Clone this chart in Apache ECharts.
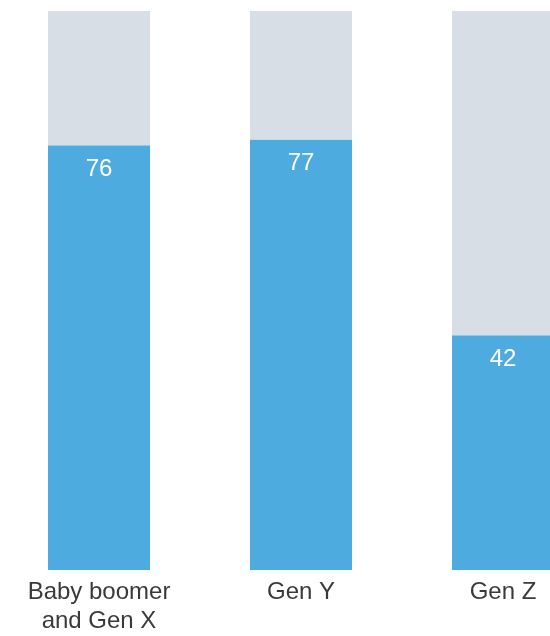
<!DOCTYPE html>
<html>
<head>
<meta charset="utf-8">
<script src="https://cdn.jsdelivr.net/npm/echarts@6/dist/echarts.min.js"></script>
<style>
  html, body { margin: 0; padding: 0; background: #ffffff; overflow: hidden; }
  /* The plot runs slightly past the page edges, so the last bar is cut off on the right */
  #chart { width: 606px; height: 636px; margin-left: -2px; }
</style>
</head>
<body>
<div id="chart"></div>
<script>
// Generations shown on the x axis
const categories = ['Baby boomer\nand Gen X', 'Gen Y', 'Gen Z'];
// Share (%) for each generation
const shareValues = [76, 77, 42];
// Remaining part up to 100%
const remainderValues = shareValues.map(v => 100 - v);

const chart = echarts.init(document.getElementById('chart'), null, { renderer: 'canvas' });

chart.setOption({
  animation: false,
  backgroundColor: '#ffffff',
  grid: { left: 0, right: 0, top: 11, bottom: 64, containLabel: false },
  xAxis: {
    type: 'category',
    data: categories,
    axisLine: { show: false },
    axisTick: { show: false },
    axisLabel: {
      margin: 8,
      fontFamily: 'Liberation Sans, Arial, sans-serif',
      fontSize: 24,
      lineHeight: 29,
      color: '#3a3a3a',
      interval: 0
    }
  },
  yAxis: {
    type: 'value',
    min: 0,
    max: 100,
    show: false,
    splitLine: { show: false }
  },
  series: [
    {
      type: 'bar',
      stack: 'total',
      data: shareValues,
      barWidth: 102,
      itemStyle: { color: '#4eabdf' },
      label: {
        show: true,
        position: 'insideTop',
        distance: 12,
        fontFamily: 'Liberation Sans, Arial, sans-serif',
        fontSize: 24,
        color: '#ffffff'
      }
    },
    {
      type: 'bar',
      stack: 'total',
      data: remainderValues,
      barWidth: 102,
      itemStyle: { color: '#d8dee5' }
    }
  ]
});
</script>
</body>
</html>
